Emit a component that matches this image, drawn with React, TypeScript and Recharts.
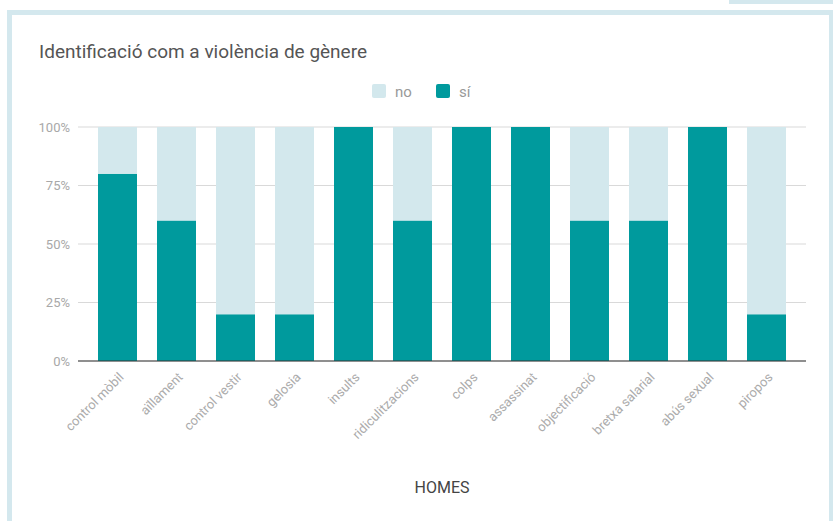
import React from "react";
import { BarChart, Bar, XAxis, YAxis, CartesianGrid } from "recharts";

const categories = [
  "control mòbil",
  "aïllament",
  "control vestir",
  "gelosia",
  "insults",
  "ridiculitzacions",
  "colps",
  "assassinat",
  "objectificació",
  "bretxa salarial",
  "abús sexual",
  "piropos",
];
const siValues = [80, 60, 20, 20, 100, 60, 100, 100, 60, 60, 100, 20];
const noValues = [20, 40, 80, 80, 0, 40, 0, 0, 40, 40, 0, 80];
const yTicks = [0, 25, 50, 75, 100];

const TEAL = "#009a9d";
const LIGHT = "#d3e8ed";
const FRAME = "#d4e8ee";
const FONT = "Roboto, 'Noto Sans', sans-serif";

const data = categories.map((c, i) => ({ name: c, si: siValues[i], no: noValues[i] }));
const legendItems = [
  { label: "no", color: LIGHT },
  { label: "sí", color: TEAL },
];

const XTick = (props: any) => {
  const { x, y, payload } = props;
  const ax = x + 7;
  const ay = y + 17;
  return (
    <text
      x={ax}
      y={ay}
      transform={`rotate(-45, ${ax}, ${ay})`}
      textAnchor="end"
      fill="#ababab"
      fontSize={13}
      fontFamily={FONT}
    >
      {payload.value}
    </text>
  );
};

export default function App() {
  return (
    <div
      style={{
        position: "absolute",
        left: 0,
        top: 0,
        width: 833,
        height: 521,
        background: "#fff",
        overflow: "hidden",
      }}
    >
      <div
        style={{
          position: "absolute",
          left: 729,
          top: 0,
          width: 104,
          height: 4,
          background: FRAME,
        }}
      />
      <div
        style={{
          position: "absolute",
          left: 7,
          top: 10,
          width: 827,
          height: 540,
          boxSizing: "border-box",
          border: `5px solid ${FRAME}`,
        }}
      />
      <div style={{ position: "absolute", left: 0, top: 0 }}>
        <BarChart
          width={833}
          height={521}
          data={data}
          margin={{ top: 127, right: 27, bottom: 60, left: 0 }}
        >
          <CartesianGrid vertical={false} stroke="#d9d9d9" />
          <XAxis
            dataKey="name"
            height={100}
            interval={0}
            padding={{ left: 10, right: 10 }}
            tickLine={false}
            tickSize={0}
            tickMargin={0}
            axisLine={{ stroke: "#333", strokeWidth: 1 }}
            tick={<XTick />}
          />
          <YAxis
            width={78}
            domain={[0, 100]}
            ticks={yTicks}
            tickFormatter={(v: number) => `${v}%`}
            axisLine={false}
            tickLine={false}
            tick={{ fill: "#a8a8a8", fontSize: 13, fontFamily: FONT }}
          />
          <Bar dataKey="si" stackId="a" fill={TEAL} barSize={39} isAnimationActive={false} />
          <Bar dataKey="no" stackId="a" fill={LIGHT} barSize={39} isAnimationActive={false} />
        </BarChart>
      </div>
      <svg
        width={833}
        height={521}
        style={{ position: "absolute", left: 0, top: 0, pointerEvents: "none" }}
      >
        <text x={39} y={58} fontSize={19} fill="#555" fontFamily={FONT}>
          Identificació com a violència de gènere
        </text>
        {legendItems.map((it, i) => (
          <g key={it.label}>
            <rect x={372 + i * 64} y={84} width={14} height={14} rx={2} fill={it.color} />
            <text x={395 + i * 64} y={97} fontSize={15} fill="#999" fontFamily={FONT}>
              {it.label}
            </text>
          </g>
        ))}
        <text x={442} y={493} fontSize={16} fill="#444" textAnchor="middle" fontFamily={FONT}>
          HOMES
        </text>
      </svg>
    </div>
  );
}
